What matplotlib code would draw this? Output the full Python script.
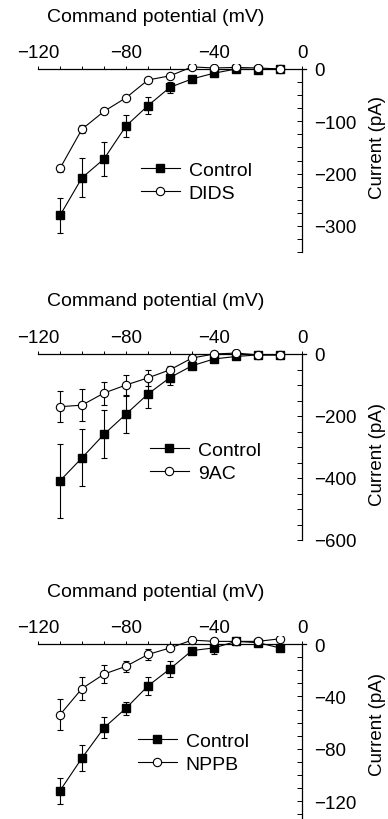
import matplotlib
matplotlib.use("Agg")
import matplotlib.pyplot as plt
from matplotlib.lines import Line2D
from matplotlib.ticker import MultipleLocator

plt.rcParams["font.family"] = ["Liberation Sans", "DejaVu Sans"]
plt.rcParams["font.size"] = 13.5

# command potentials (mV)
voltage = [-110, -100, -90, -80, -70, -60, -50, -40, -30, -20, -10]

# panel A: DIDS
control_a = [-280, -208, -172, -109, -70, -35, -19, -8, 0, -1, 0]
control_a_err = [33, 37, 33, 21, 16, 10, 3, 3, 1, 1, 1]
dids = [-190, -115, -81, -55, -21, -13, 4, 2, 3, 2, 0]
dids_err = [7, 7, 5, 4, 4, 4, 2, 1, 1, 1, 1]

# panel B: 9AC
control_b = [-409, -335, -259, -194, -129, -76, -38, -16, -8, -3, -3]
control_b_err = [120, 92, 77, 60, 45, 25, 8, 5, 2, 2, 2]
ac9 = [-170, -165, -126, -100, -77, -51, -13, 0, 3, -3, -3]
ac9_err = [50, 52, 37, 32, 25, 12, 4, 2, 2, 2, 2]

# panel C: NPPB
control_c = [-112, -87, -64, -49, -32, -19, -5, -3, 2, 1, -3]
control_c_err = [10, 10, 8, 5, 7, 6, 3, 5, 1, 1, 1]
nppb = [-54, -34, -23, -17, -8, -3, 3, 2, 2, 2, 4]
nppb_err = [12, 9, 7, 4, 4, 2, 1, 1, 1, 1, 1]

W, H = 388, 820
fig = plt.figure(figsize=(W / 100, H / 100), dpi=100)


def px(x, y):
    return x / W, 1 - y / H


def draw_panel(y0_px, px_per_pa, ylims, ybound, ystep, ymajor, ctrl, ctrl_err,
               drug, drug_err, drug_name, title_y, legend_xy, ylabel_y):
    # x: -120 mV at 38 px, 0 mV at 302 px
    xl, xr = -121.5, 2.5
    ppmv = 264 / 120
    left = 38 + (xl + 120) * ppmv
    right = 302 + xr * ppmv
    top = y0_px - ylims[1] * px_per_pa
    bottom = y0_px - ylims[0] * px_per_pa
    ax = fig.add_axes([left / W, 1 - bottom / H, (right - left) / W, (bottom - top) / H])
    ax.set_xlim(xl, xr)
    ax.set_ylim(*ylims)
    ax.patch.set_alpha(0)

    for side in ("left", "bottom"):
        ax.spines[side].set_visible(False)
    ax.spines["top"].set_position(("data", 0))
    ax.spines["right"].set_position(("data", 0))
    ax.spines["top"].set_bounds(-120, 1.8)
    ax.spines["right"].set_bounds(ybound, 0)
    for side in ("top", "right"):
        ax.spines[side].set_linewidth(0.9)

    ax.xaxis.set_ticks_position("top")
    ax.yaxis.set_ticks_position("right")
    ax.xaxis.set_minor_locator(MultipleLocator(10))
    ax.yaxis.set_minor_locator(MultipleLocator(ystep))
    ax.set_xticks([-120, -80, -40, 0])
    ax.set_yticks([v for v in range(0, ybound - 1, -ymajor) if v >= ylims[0]])
    ax.tick_params(axis="x", which="both", direction="out", length=2.5, width=0.7, pad=3)
    ax.tick_params(axis="y", which="both", direction="in", length=3.5, width=0.7, pad=9)

    ax.errorbar(voltage, ctrl, yerr=ctrl_err, fmt="-s", color="black", ms=6,
                mfc="black", mec="black", lw=0.8, elinewidth=0.8, capsize=2.5,
                capthick=0.8, zorder=3)
    ax.errorbar(voltage, drug, yerr=drug_err, fmt="-o", color="black", ms=6,
                mfc="white", mec="black", mew=0.8, lw=0.8, elinewidth=0.8,
                capsize=2.5, capthick=0.8, zorder=4)

    ax.text(156 / W, 1 - title_y / H, "Command potential (mV)", transform=fig.transFigure,
            ha="center", va="center", fontsize=14)
    ax.text(378 / W, 1 - ylabel_y / H, "Current (pA)", transform=fig.transFigure,
            ha="center", va="center", rotation=90, fontsize=13.5)

    handles = [
        Line2D([], [], color="black", lw=0.8, marker="s", ms=6, mfc="black"),
        Line2D([], [], color="black", lw=0.8, marker="o", ms=6, mfc="white", mew=0.8),
    ]
    ax.legend(handles, ["Control", drug_name], loc="upper left",
              bbox_to_anchor=px(*legend_xy), bbox_transform=fig.transFigure,
              frameon=False, borderpad=0, borderaxespad=0, handlelength=2.0,
              handletextpad=0.45, labelspacing=0.3, fontsize=14)
    return ax


draw_panel(70, 0.523, (-362, 9), -350, 25, 100, control_a, control_a_err,
           dids, dids_err, "DIDS", 18, (141, 162), 148)
draw_panel(355, 0.31, (-615, 16), -600, 50, 200, control_b, control_b_err,
           ac9, ac9_err, "9AC", 302, (150, 442), 455)
draw_panel(645, 1.31, (-140, 6), -140, 10, 40, control_c, control_c_err,
           nppb, nppb_err, "NPPB", 593, (138, 733), 725)

fig.savefig("out.png", dpi=100)
